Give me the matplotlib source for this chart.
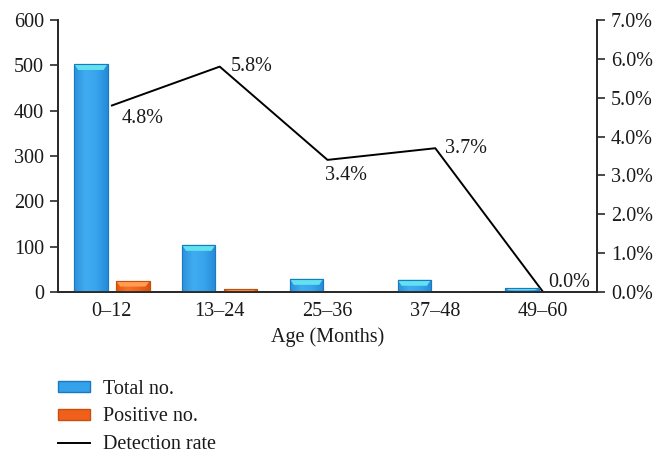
import numpy as np
import matplotlib
matplotlib.use("Agg")
import matplotlib.pyplot as plt
from matplotlib.ticker import PercentFormatter
from matplotlib.patches import Polygon, Rectangle, Patch
from matplotlib.lines import Line2D
from matplotlib.colors import LinearSegmentedColormap

# ---- data ----
categories = ["0\u201312", "13\u201324", "25\u201336", "37\u201348", "49\u201360"]
total_no = [503, 104, 29, 27, 8]
positive_no = [24, 6, 1, 1, 0]
detection_rate = [0.048, 0.058, 0.034, 0.037, 0.000]
rate_labels = ["4.8%", "5.8%", "3.4%", "3.7%", "0.0%"]

plt.rcParams['font.family'] = ['Liberation Serif', 'DejaVu Serif']
FS = 14.5

fig = plt.figure(figsize=(6.65, 4.61), dpi=100)
ax = fig.add_axes([58/665, 1-292/461, (597-58)/665, (292-20)/461])
ax2 = ax.twinx()

x = np.arange(len(categories))
bw = 0.31
off = 0.195

blue_main = "#33a2ea"
blue_cap = "#62e2ee"
blue_edge = "#1b78c2"
or_main = "#f0601a"
or_cap = "#ff9d52"
or_edge = "#c8500e"

bars_t = ax.bar(x - off, total_no, bw, color=blue_main, edgecolor=blue_edge, linewidth=0.8, zorder=2)
bars_p = ax.bar(x + off, positive_no, bw, color=or_main, edgecolor=or_edge, linewidth=0.8, zorder=2)

ax.set_xlim(-0.5, len(categories) - 0.5)
ax.set_ylim(0, 600)
ax2.set_ylim(0, 0.07)

cm_blue = LinearSegmentedColormap.from_list("b", ["#2a90da", "#40acf0", "#38a4ec", "#268ad6"])
cm_or = LinearSegmentedColormap.from_list("o", ["#e4560f", "#f7702a", "#f06420", "#d9520c"])
grad = np.linspace(0, 1, 64).reshape(1, -1)

upp = 600 / 272.0

def decorate(bars, cmap, cap_color):
    for b in bars:
        h = b.get_height()
        if h <= 0:
            continue
        x0 = b.get_x(); w = b.get_width()
        im = ax.imshow(grad, extent=(x0, x0 + w, 0, h), aspect='auto', cmap=cmap,
                       zorder=2.1, interpolation='bilinear')
        im.set_clip_path(b)
        cap_h = min(6 * upp, h * 0.5)
        inset = w * 0.12
        cap = Polygon([(x0, h), (x0 + w, h), (x0 + w - inset, h - cap_h), (x0 + inset, h - cap_h)],
                      closed=True, facecolor=cap_color, edgecolor='none', zorder=2.2)
        ax.add_patch(cap)
        edge = Rectangle((x0, 0), w, h, facecolor='none', edgecolor=b.get_edgecolor(),
                         linewidth=0.8, zorder=2.3)
        ax.add_patch(edge)

decorate(bars_t, cm_blue, blue_cap)
decorate(bars_p, cm_or, or_cap)
ax.set_xlim(-0.5, len(categories) - 0.5)
ax.set_ylim(0, 600)

line, = ax2.plot(x, detection_rate, color='black', linewidth=1.4, zorder=1)

label_offsets = [(31, -13), (32, 0), (18, -16), (31, 0), (26, 10)]
for xi, r, lab, (dx, dy) in zip(x, detection_rate, rate_labels, label_offsets):
    ax2.annotate(lab, (xi, r), xytext=(dx, dy), textcoords='offset pixels',
                 ha='center', va='center', fontsize=FS, color='#1a1a1a')

ax.set_zorder(ax2.get_zorder() + 1)
ax.patch.set_visible(False)

ax.set_yticks(np.arange(0, 601, 100))
ax2.set_yticks(np.arange(0, 0.0701, 0.01))
ax2.yaxis.set_major_formatter(PercentFormatter(1.0, decimals=1))
ax.set_xticks(x)
ax.set_xticklabels(categories)

for a in (ax, ax2):
    for s in a.spines.values():
        s.set_color('#2a2a2a')
        s.set_linewidth(1.3)
    a.spines['top'].set_visible(False)

ax.tick_params(axis='y', labelsize=FS, length=6, width=1.2, color='#2a2a2a', pad=4, labelcolor='#1a1a1a')
ax2.tick_params(axis='y', labelsize=FS, length=6, width=1.2, color='#2a2a2a', pad=4, labelcolor='#1a1a1a')
ax.tick_params(axis='x', labelsize=FS, length=0, pad=7, labelcolor='#1a1a1a')
ax.set_xlabel("Age (Months)", fontsize=FS, color='#1a1a1a', labelpad=5)

labels = ["Total no.", "Positive no.", "Detection rate"]
h1 = Patch(facecolor=blue_main, edgecolor=blue_edge)
h2 = Patch(facecolor=or_main, edgecolor=or_edge)
h3 = Line2D([], [], color='black', linewidth=1.4)
leg = fig.legend([h1, h2, h3], labels, loc='upper left',
                 bbox_to_anchor=(54/665, 1 - 376/461), frameon=False, fontsize=FS,
                 handlelength=1.6, handleheight=0.45, handletextpad=0.65, labelspacing=0.42,
                 borderaxespad=0, borderpad=0.2)
for t in leg.get_texts():
    t.set_color('#1a1a1a')

fig.savefig("out.png", dpi=100)
